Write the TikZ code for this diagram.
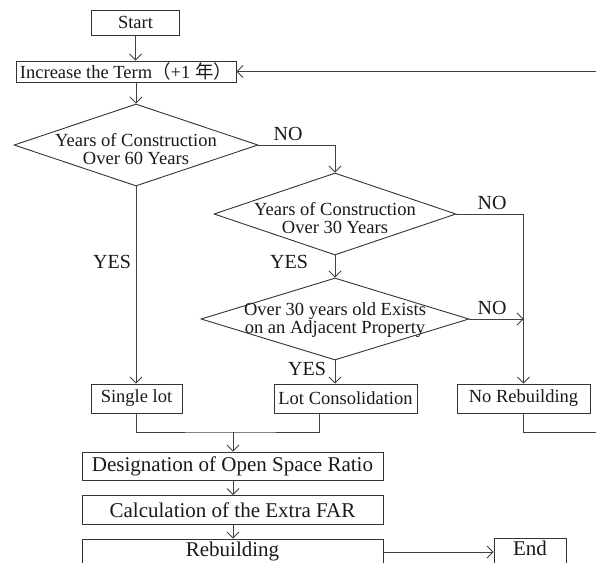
\documentclass[tikz,border=0pt]{standalone}
\usepackage{fontspec}
\setmainfont{Liberation Serif}
\newfontfamily\cjk{Noto Sans CJK SC}
\usetikzlibrary{shapes.geometric,arrows.meta,calc}
\begin{document}
\begin{tikzpicture}[x=1pt,y=-1pt,
  ln/.style={draw=black!75,line width=0.9pt},
  arr/.style={ln,-{Straight Barb[length=6pt,width=12pt,line width=0.8pt]}},
  box/.style={draw=black!80,line width=0.9pt,rectangle,inner sep=0pt,text=black!90,font=\fontsize{18.5}{18}\selectfont},
  bigbox/.style={box,font=\fontsize{21}{21}\selectfont},
  dia/.style={draw=black!80,line width=0.9pt,diamond,inner sep=0pt},
  dtext/.style={align=center,inner sep=0pt,text=black!90,font=\fontsize{18.5}{18}\selectfont},
  lab/.style={inner sep=0pt,text=black!90,font=\fontsize{20}{20}\selectfont}]
\useasboundingbox (0,0) rectangle (596,562);

\node[box,minimum width=88,minimum height=25] (start) at (135.5,22.5) {Start};
\node[box,minimum width=220,minimum height=21] (inc) at (126,71.5) {Increase the Term{\cjk （}+1 {\cjk 年）}};

\node[dia,minimum width=244,minimum height=82] (d1) at (136,145) {};
\node[dtext] (d1t) at (136,149) {Years of Construction\\Over 60 Years};

\node[dia,minimum width=242,minimum height=82] (d2) at (335,214) {};
\node[dtext] (d2t) at (335,218) {Years of Construction\\Over 30 Years};

\node[dia,minimum width=268,minimum height=82] (d3) at (335,319) {};
\node[dtext] (d3t) at (335,320) {Over 30 years old Exists\\on an Adjacent Property};

\node[box,minimum width=91,minimum height=29] (single) at (136.5,398.5) {Single lot};
\node[box,minimum width=143,minimum height=29] (lot) at (345.5,398.5) {Lot Consolidation};
\node[box,minimum width=133,minimum height=29] (norb) at (523.5,398.5) {No Rebuilding};

\node[bigbox,minimum width=301,minimum height=28] (desig) at (232.5,466) {Designation of Open Space Ratio};
\node[bigbox,minimum width=301,minimum height=29] (calc) at (232.5,510) {Calculation of the Extra FAR};
\node[bigbox,minimum width=301,minimum height=28,text height=14pt,text depth=8pt] (rebuild) at (232.5,553) {Rebuilding};
\node[bigbox,minimum width=72,minimum height=28,text height=14pt,text depth=8pt] (endn) at (530,552) {End};

\node[lab] (no1) at (288,134) {NO};
\node[lab] (yes1) at (112,262) {YES};
\node[lab] (no2) at (492,203) {NO};
\node[lab] (yes2) at (289,262) {YES};
\node[lab] (no3) at (492,308) {NO};
\node[lab] (yes3) at (307,369) {YES};

\coordinate (fbin) at (596,71.5);
\coordinate (fbout) at (596,432);
\coordinate (merge) at (233,432);

\draw[arr] (start) -- (start.south |- inc.north);
\draw[arr] (inc.south -| d1.north) -- (d1.north);
\draw[arr] (fbin) -- (inc.east);
\draw[arr] (d1.east) -| (d2.north);
\draw[arr] (d1.south) -- (d1.south |- single.north);
\draw[arr] (d2.south) -- (d3.north);
\draw[arr] (d2.east) -| (norb.north);
\draw[arr] (d3.east) -- (d3.east -| norb.north);
\draw[arr] (d3.south) -- (d3.south |- lot.north);
\draw[ln] (single.south) |- (merge) -| ($(lot.south)+(-26.5,0)$);
\draw[arr] (merge) -- (merge |- desig.north);
\draw[arr] (desig.south -| merge) -- (merge |- calc.north);
\draw[arr] (calc.south -| merge) -- (merge |- rebuild.north);
\draw[arr] (rebuild.east |- endn.west) -- (endn.west);
\draw[ln] (norb.south) |- (fbout);
\end{tikzpicture}
\end{document}
